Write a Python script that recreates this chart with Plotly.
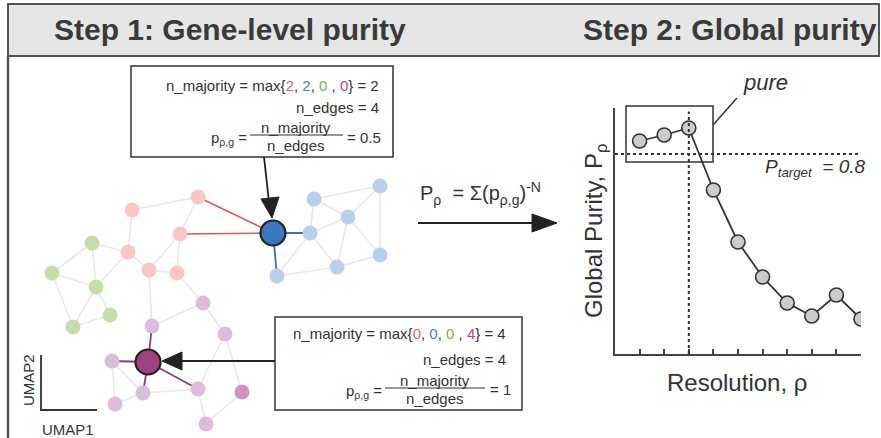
import plotly.graph_objects as go

W, H = 881, 438

# ---------------- Step 2: global purity curve ----------------
resolution = [1, 2, 3, 4, 5, 6, 7, 8, 9, 10]
global_purity = [0.852, 0.876, 0.904, 0.656, 0.448, 0.308, 0.204, 0.152, 0.236, 0.14]
x_ticks = [1, 2, 3, 4, 5, 6, 7, 8, 9, 10]
p_target = 0.8
chosen_resolution = 3

# ---------------- Step 1: kNN graph in UMAP space (pixel layout) ----------------
pink_names = ["P1", "P2", "P3", "P4", "P5", "P6"]
pink_x = [198, 132, 180, 128, 149, 177]
pink_y = [197, 210, 234, 252, 270, 273]

green_names = ["G1", "G2", "G3", "G4", "G5"]
green_x = [92, 52, 96, 110, 73]
green_y = [243, 273, 287, 315, 327]

blue_names = ["B1", "B2", "B3", "B4", "B5", "B6", "B7"]
blue_x = [314, 380, 348, 310, 380, 337, 277]
blue_y = [199, 186, 217, 233, 255, 267, 276]

purple_names = ["U1", "U2", "U3", "U4", "U5", "U6", "U8", "U9"]
purple_x = [203, 152, 225, 112, 143, 198, 115, 206]
purple_y = [303, 326, 334, 361, 393, 389, 404, 424]

dark_purple_names = ["U7"]
dark_purple_x = [242]
dark_purple_y = [392]

focus_names = ["B0", "U0"]
focus_x = [273, 148]
focus_y = [233, 362]

light_edges = [
    ("P2", "P1"), ("P1", "P3"), ("P2", "P4"), ("P3", "P5"), ("P4", "P5"), ("P3", "P6"), ("P5", "P6"),
    ("G1", "P4"), ("G3", "P4"), ("G1", "G2"), ("G1", "G3"), ("G2", "G3"), ("G2", "G5"),
    ("G3", "G5"), ("G3", "G4"), ("G4", "G5"),
    ("P5", "U2"), ("P6", "U1"), ("U1", "U2"), ("U1", "U3"),
    ("U4", "U5"), ("U4", "U8"), ("U5", "U8"), ("U5", "U6"), ("U3", "U6"), ("U3", "U7"),
    ("U6", "U9"), ("U7", "U9"),
    ("B1", "B2"), ("B1", "B4"), ("B1", "B3"), ("B4", "B3"), ("B3", "B2"), ("B3", "B6"),
    ("B4", "B6"), ("B2", "B5"), ("B3", "B5"), ("B5", "B6"), ("B6", "B7"), ("B4", "B7"),
]
red_edges = [("B0", "P1"), ("B0", "P3")]
blue_edges = [("B0", "B4"), ("B0", "B7")]
purple_edges = [("U0", "U2"), ("U0", "U4"), ("U0", "U5"), ("U0", "U6")]

pos = {}
for names, xs, ys in [(pink_names, pink_x, pink_y), (green_names, green_x, green_y),
                      (blue_names, blue_x, blue_y), (purple_names, purple_x, purple_y),
                      (dark_purple_names, dark_purple_x, dark_purple_y),
                      (focus_names, focus_x, focus_y)]:
    for n, x, y in zip(names, xs, ys):
        pos[n] = (x, y)


def edge_xy(edges):
    ex, ey = [], []
    for a, b in edges:
        ex += [pos[a][0], pos[b][0], None]
        ey += [pos[a][1], pos[b][1], None]
    return ex, ey


fig = go.Figure()

for edges, col, wd in [(light_edges, "#e8e8e8", 1.6), (red_edges, "#d65a55", 1.6),
                       (blue_edges, "#3a6fb0", 1.8), (purple_edges, "#8b3f78", 1.8)]:
    ex, ey = edge_xy(edges)
    fig.add_trace(go.Scatter(x=ex, y=ey, mode="lines", line=dict(color=col, width=wd),
                             hoverinfo="skip", showlegend=False))

for xs, ys, col in [(pink_x, pink_y, "#f8c6c5"), (green_x, green_y, "#c6dcab"),
                    (blue_x, blue_y, "#bad0ea"), (purple_x, purple_y, "#dcbdd9"),
                    (dark_purple_x, dark_purple_y, "#cf93bf")]:
    fig.add_trace(go.Scatter(x=xs, y=ys, mode="markers",
                             marker=dict(size=15, color=col, line=dict(width=0)),
                             hoverinfo="skip", showlegend=False))

fig.add_trace(go.Scatter(x=focus_x, y=focus_y, mode="markers",
                         marker=dict(size=25, color=["#3b78c2", "#a0447f"],
                                     line=dict(width=2.2, color="#222222")),
                         hoverinfo="skip", showlegend=False))

# Step 2 line chart
fig.add_trace(go.Scatter(x=resolution, y=global_purity, mode="lines+markers",
                         line=dict(color="#333333", width=1.8),
                         marker=dict(size=14, color="#cccccc", line=dict(width=1.6, color="#333333")),
                         xaxis="x2", yaxis="y2", hoverinfo="skip", showlegend=False))

shapes = []
# header band and frame
shapes.append(dict(type="rect", xref="x", yref="y", x0=8, y0=4, x1=879, y1=56,
                   fillcolor="#e6e6e6", line=dict(color="#555555", width=2), layer="below"))
shapes.append(dict(type="line", xref="x", yref="y", x0=8, y0=56, x1=8, y1=438,
                   line=dict(color="#555555", width=2.5)))

# boxes
box_style = dict(color="#333333", width=1.5)
shapes.append(dict(type="rect", xref="x", yref="y", x0=131, y0=66, x1=393, y1=157,
                   fillcolor="white", line=box_style))
shapes.append(dict(type="rect", xref="x", yref="y", x0=275, y0=317, x1=522, y1=410,
                   fillcolor="white", line=box_style))
# fraction lines
shapes.append(dict(type="line", xref="x", yref="y", x0=250, y0=135, x1=343, y1=135,
                   line=dict(color="#333333", width=1.2)))
shapes.append(dict(type="line", xref="x", yref="y", x0=385, y0=388, x1=485, y1=388,
                   line=dict(color="#333333", width=1.2)))

# arrows (line + filled triangle)
arrow_col = "#222222"
shapes.append(dict(type="line", xref="x", yref="y", x0=264, y0=157, x1=269, y1=202,
                   line=dict(color=arrow_col, width=1.8)))
shapes.append(dict(type="path", xref="x", yref="y", path="M 261 199 L 279 197 L 272 218 Z",
                   fillcolor=arrow_col, line=dict(color=arrow_col, width=1)))
shapes.append(dict(type="line", xref="x", yref="y", x0=275, y0=361, x1=178, y1=361,
                   line=dict(color=arrow_col, width=1.8)))
shapes.append(dict(type="path", xref="x", yref="y", path="M 182 352 L 182 370 L 162 361 Z",
                   fillcolor=arrow_col, line=dict(color=arrow_col, width=1)))
shapes.append(dict(type="line", xref="x", yref="y", x0=418, y0=223, x1=535, y1=223,
                   line=dict(color=arrow_col, width=1.8)))
shapes.append(dict(type="path", xref="x", yref="y", path="M 532 214 L 532 232 L 557 223 Z",
                   fillcolor=arrow_col, line=dict(color=arrow_col, width=1)))

# UMAP axes
shapes.append(dict(type="line", xref="x", yref="y", x0=41, y0=355, x1=41, y1=410,
                   line=dict(color="#333333", width=1.8)))
shapes.append(dict(type="line", xref="x", yref="y", x0=40, y0=410, x1=97, y1=410,
                   line=dict(color="#333333", width=1.8)))

# step 2 guide lines
shapes.append(dict(type="line", xref="x2", yref="y2", x0=0, x1=10, y0=p_target, y1=p_target,
                   line=dict(color="#333333", width=2, dash="dot")))
shapes.append(dict(type="line", xref="x2", yref="y2", x0=chosen_resolution, x1=chosen_resolution,
                   y0=0, y1=0.97, line=dict(color="#333333", width=2, dash="dot")))
# "pure" box and pointer
shapes.append(dict(type="rect", xref="x", yref="y", x0=626, y0=106, x1=713, y1=162,
                   line=dict(color="#333333", width=1.5)))
shapes.append(dict(type="line", xref="x", yref="y", x0=713, y0=125, x1=737, y1=98,
                   line=dict(color="#333333", width=1.5)))

ann = []
FONT = "Liberation Sans, Arial, sans-serif"


def txt(x, y, s, size=14, xa="center", ya="middle", color="#333333", family=FONT, angle=0):
    ann.append(dict(x=x, y=y, xref="x", yref="y", text=s, showarrow=False, xanchor=xa,
                    yanchor=ya, textangle=angle, font=dict(size=size, color=color, family=family)))


txt(230, 29, "<b>Step 1: Gene-level purity</b>", size=30, color="#3a3a3a")
txt(730, 29, "<b>Step 2: Global purity</b>", size=30, color="#3a3a3a")

R, B, G, PU = "#e0625c", "#4a80c0", "#7fb04a", "#a0508a"


def c(col, s):
    return f"<span style='color:{col}'>{s}</span>"


FS = 15
txt(381, 85, f"n_majority = max{{{c(R,'2')}, {c(B,'2')}, {c(G,'0')} , {c(PU,'0')}}} = 2", size=FS, xa="right")
txt(381, 107, "n_edges = 4", size=FS, xa="right")
txt(296, 127, "n_majority", size=FS)
txt(296, 145, "n_edges", size=FS)
txt(249, 138, "p<sub>ρ,g</sub> =", size=FS, xa="right")
txt(345, 137, "= 0.5", size=FS, xa="left")

txt(508, 333, f"n_majority = max{{{c(R,'0')}, {c(B,'0')}, {c(G,'0')} , {c(PU,'4')}}} = 4", size=FS, xa="right")
txt(508, 359, "n_edges = 4", size=FS, xa="right")
txt(435, 380, "n_majority", size=FS)
txt(435, 398, "n_edges", size=FS)
txt(384, 391, "p<sub>ρ,g</sub> =", size=FS, xa="right")
txt(488, 389, "= 1", size=FS, xa="left")

txt(480, 193, "P<sub>ρ</sub>  = Σ(p<sub>ρ,g</sub>)<sup>-N</sup>", size=20)

txt(28, 380, "UMAP2", size=15, angle=-90)
txt(68, 429, "UMAP1", size=15)

txt(765, 82, "<i>pure</i>", size=22)
txt(815, 168, "<i>P<sub>target</sub></i>  <i>= 0.8</i>", size=19)
txt(595, 231, "Global Purity, P<sub>ρ</sub>", size=24, angle=-90)
txt(737, 382, "Resolution, ρ", size=24)

fig.update_layout(
    width=W, height=H, margin=dict(l=0, r=0, t=0, b=0),
    paper_bgcolor="white", plot_bgcolor="rgba(0,0,0,0)",
    xaxis=dict(range=[0, W], visible=False, domain=[0, 1], fixedrange=True),
    yaxis=dict(range=[H, 0], visible=False, domain=[0, 1], fixedrange=True),
    xaxis2=dict(domain=[615 / W, 861 / W], range=[0, 10], anchor="y2",
                showline=True, linecolor="#444444", linewidth=2.2, showgrid=False, zeroline=False,
                ticks="inside", ticklen=5, tickwidth=1.5, tickcolor="#444444",
                tickvals=x_ticks, showticklabels=False, fixedrange=True),
    yaxis2=dict(domain=[(H - 354) / H, (H - 108) / H], range=[0, 0.984], anchor="x2",
                showline=True, linecolor="#444444", linewidth=2.2, showgrid=False, zeroline=False,
                ticks="", showticklabels=False, fixedrange=True),
    shapes=shapes, annotations=ann, showlegend=False,
)

fig.write_html("out.html", config={"displayModeBar": False},
               post_script="document.body.style.margin='0';document.body.style.overflow='hidden';")
